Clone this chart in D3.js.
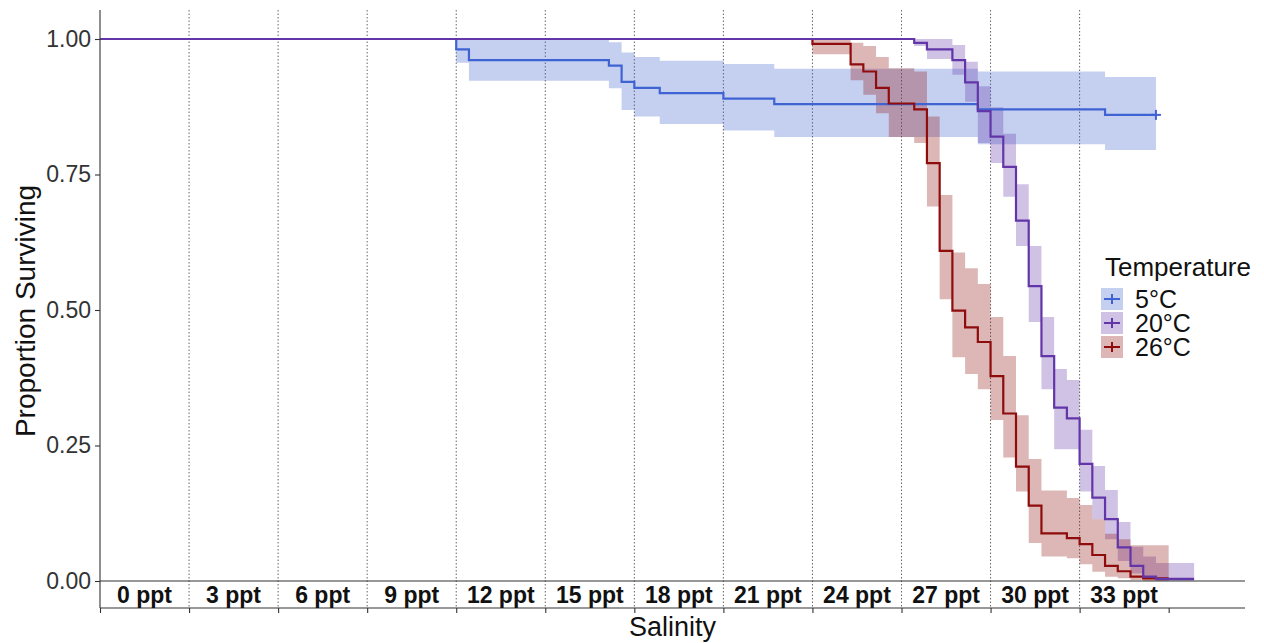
<!DOCTYPE html>
<html><head><meta charset="utf-8">
<script src="https://cdn.jsdelivr.net/npm/d3@7"></script>
<style>
body{margin:0;background:#fff;}
svg{display:block;font-family:Arial,"Liberation Sans",sans-serif;}
</style>
</head><body>
<svg id="chart" width="1264" height="643"></svg>
<script>
// ---------- data ----------
const categories = ["0 ppt","3 ppt","6 ppt","9 ppt","12 ppt","15 ppt","18 ppt","21 ppt","24 ppt","27 ppt","30 ppt","33 ppt"];
const stepsPerCategory = 7;
const yTicks = [0, 0.25, 0.5, 0.75, 1];
const yTickLabels = ["0.00","0.25","0.50","0.75","1.00"];
const temperatures = ["5°C","20°C","26°C"];
const colors = ["#3F63D2","#6236A8","#8E0C0C"];

const time5  = [0, 28, 29, 40, 41, 42, 44, 49, 53, 69, 79, 83];
const surv5  = [1, 0.981, 0.961, 0.951, 0.921, 0.910, 0.900, 0.890, 0.880, 0.870, 0.860, 0.860];
const lower5 = [1, 0.956, 0.923, 0.909, 0.869, 0.857, 0.843, 0.831, 0.819, 0.806, 0.795, 0.795];
const upper5 = [1, 1, 1, 0.994, 0.975, 0.967, 0.960, 0.954, 0.945, 0.940, 0.930, 0.930];

const time20  = [0, 64, 65, 67, 68, 69, 70, 71, 72, 73, 74, 75, 76, 77, 78, 79, 80, 81, 82, 83, 86];
const surv20  = [1, 0.993, 0.981, 0.961, 0.920, 0.867, 0.820, 0.764, 0.665, 0.544, 0.415, 0.320, 0.300, 0.216, 0.154, 0.114, 0.062, 0.028, 0.008, 0.004, 0.004];
const lower20 = [1, 0.987, 0.963, 0.934, 0.884, 0.808, 0.771, 0.709, 0.618, 0.478, 0.354, 0.243, 0.243, 0.165, 0.114, 0.077, 0.037, 0.014, 0.005, 0, 0];
const upper20 = [1, 1, 1, 0.989, 0.958, 0.913, 0.874, 0.825, 0.732, 0.618, 0.487, 0.391, 0.371, 0.279, 0.212, 0.168, 0.109, 0.063, 0.045, 0.033, 0.033];

const time26  = [0, 56, 59, 60, 61, 62, 64, 65, 66, 67, 68, 69, 70, 71, 72, 73, 74, 76, 77, 78, 79, 80, 81, 82, 84];
const surv26  = [1, 0.991, 0.953, 0.940, 0.910, 0.881, 0.870, 0.771, 0.609, 0.499, 0.468, 0.441, 0.378, 0.309, 0.211, 0.139, 0.088, 0.079, 0.068, 0.048, 0.028, 0.018, 0.008, 0.005, 0.005];
const lower26 = [1, 0.972, 0.924, 0.897, 0.863, 0.819, 0.808, 0.691, 0.520, 0.413, 0.382, 0.354, 0.297, 0.228, 0.165, 0.070, 0.045, 0.042, 0.031, 0.017, 0.008, 0.005, 0.002, 0, 0];
const upper26 = [1, 1, 0.993, 0.987, 0.967, 0.946, 0.940, 0.857, 0.712, 0.606, 0.577, 0.548, 0.487, 0.415, 0.306, 0.225, 0.167, 0.153, 0.140, 0.114, 0.087, 0.077, 0.066, 0.066, 0.066];

const censor5 = [83];

// ---------- build ----------
const series = [
  {name: temperatures[0], color: colors[0], t: time5,  s: surv5,  lo: lower5,  hi: upper5},
  {name: temperatures[1], color: colors[1], t: time20, s: surv20, lo: lower20, hi: upper20},
  {name: temperatures[2], color: colors[2], t: time26, s: surv26, lo: lower26, hi: upper26}
].map(d => ({...d, pts: d.t.map((t,i) => ({t, s: d.s[i], lo: d.lo[i], hi: d.hi[i]}))}));

const svg = d3.select("#chart");
const left = 100, right = 1245, panelTop = 10, axisY = 608;
const x = d3.scaleLinear().domain([0, 90]).range([left, right]);
const y = d3.scaleLinear().domain([0, 1]).range([581, 39]);

// dotted category separators
const breaks = d3.range(1, categories.length).map(i => i * stepsPerCategory);
svg.append("g").selectAll("line").data(breaks).join("line")
  .attr("x1", d => x(d)).attr("x2", d => x(d))
  .attr("y1", panelTop).attr("y2", axisY)
  .attr("stroke", "#666").attr("stroke-width", 1).attr("stroke-dasharray", "1.5,2");

// confidence bands
const area = d3.area().curve(d3.curveStepAfter)
  .x(d => x(d.t)).y0(d => y(d.lo)).y1(d => y(d.hi));
svg.append("g").selectAll("path").data(series).join("path")
  .attr("d", d => area(d.pts))
  .attr("fill", d => d.color).attr("fill-opacity", 0.3).attr("stroke", "none");

// zero line
svg.append("line").attr("x1", left).attr("x2", right)
  .attr("y1", y(0)).attr("y2", y(0)).attr("stroke", "#333").attr("stroke-width", 1.1);

// survival step lines (order: blue, red, purple)
const line = d3.line().curve(d3.curveStepAfter).x(d => x(d.t)).y(d => y(d.s));
const drawOrder = [series[0], series[2], series[1]];
svg.append("g").selectAll("path").data(drawOrder).join("path")
  .attr("d", d => line(d.pts))
  .attr("fill", "none").attr("stroke", d => d.color).attr("stroke-width", 2.2);

// censor marks
const cg = svg.append("g");
censor5.forEach(t => {
  const i = time5.indexOf(t);
  const cx = x(t), cy = y(surv5[i]);
  cg.append("line").attr("x1", cx-5).attr("x2", cx+5).attr("y1", cy).attr("y2", cy).attr("stroke", colors[0]).attr("stroke-width", 2);
  cg.append("line").attr("x1", cx).attr("x2", cx).attr("y1", cy-5).attr("y2", cy+5).attr("stroke", colors[0]).attr("stroke-width", 2);
});

// y axis
const yAxis = d3.axisLeft(y).tickValues(yTicks).tickFormat((d,i) => yTickLabels[i]).tickSize(5).tickPadding(4);
const gy = svg.append("g").attr("transform", `translate(${left},0)`).call(yAxis);
gy.select(".domain").remove();
gy.selectAll(".tick line").attr("stroke", "#333").attr("stroke-width", 1.1);
gy.selectAll(".tick text").attr("font-size", 23).attr("fill", "#333").attr("font-family", "Arial, 'Liberation Sans', sans-serif");
svg.append("line").attr("x1", left).attr("x2", left).attr("y1", panelTop).attr("y2", axisY)
  .attr("stroke", "#333").attr("stroke-width", 1.1);

// x axis (bottom)
const xTicks = d3.range(0, categories.length + 1).map(i => i * stepsPerCategory);
const xAxis = d3.axisBottom(x).tickValues(xTicks).tickFormat("").tickSize(5);
const gx = svg.append("g").attr("transform", `translate(0,${axisY})`).call(xAxis);
gx.select(".domain").remove();
gx.selectAll(".tick line").attr("stroke", "#333").attr("stroke-width", 1.1);
svg.append("line").attr("x1", left).attr("x2", right).attr("y1", axisY).attr("y2", axisY)
  .attr("stroke", "#333").attr("stroke-width", 1.1);

// category labels
svg.append("g").selectAll("text").data(categories).join("text")
  .attr("x", (d,i) => x((i + 0.5) * stepsPerCategory))
  .attr("y", 603)
  .attr("text-anchor", "middle")
  .attr("font-size", 23).attr("font-weight", "bold").attr("fill", "#111")
  .text(d => d);

// axis titles
svg.append("text").attr("x", (left + right)/2).attr("y", 636)
  .attr("text-anchor", "middle").attr("font-size", 27).attr("fill", "#111").text("Salinity");
svg.append("text").attr("transform", "translate(35,311) rotate(-90)")
  .attr("text-anchor", "middle").attr("font-size", 28).attr("fill", "#111").text("Proportion Surviving");

// legend
const lg = svg.append("g");
lg.append("text").attr("x", 1105).attr("y", 276).attr("font-size", 26).attr("fill", "#111").text("Temperature");
const keyY = [288, 312, 336];
series.forEach((d, i) => {
  const ky = keyY[i];
  lg.append("rect").attr("x", 1101).attr("y", ky).attr("width", 22).attr("height", 22)
    .attr("fill", d.color).attr("fill-opacity", 0.3);
  lg.append("line").attr("x1", 1104).attr("x2", 1120).attr("y1", ky+11).attr("y2", ky+11)
    .attr("stroke", d.color).attr("stroke-width", 2);
  lg.append("line").attr("x1", 1112).attr("x2", 1112).attr("y1", ky+6).attr("y2", ky+16)
    .attr("stroke", d.color).attr("stroke-width", 2);
  lg.append("text").attr("x", 1135).attr("y", ky + 19.5).attr("font-size", 25).attr("fill", "#111").text(d.name);
});
</script>
</body></html>
